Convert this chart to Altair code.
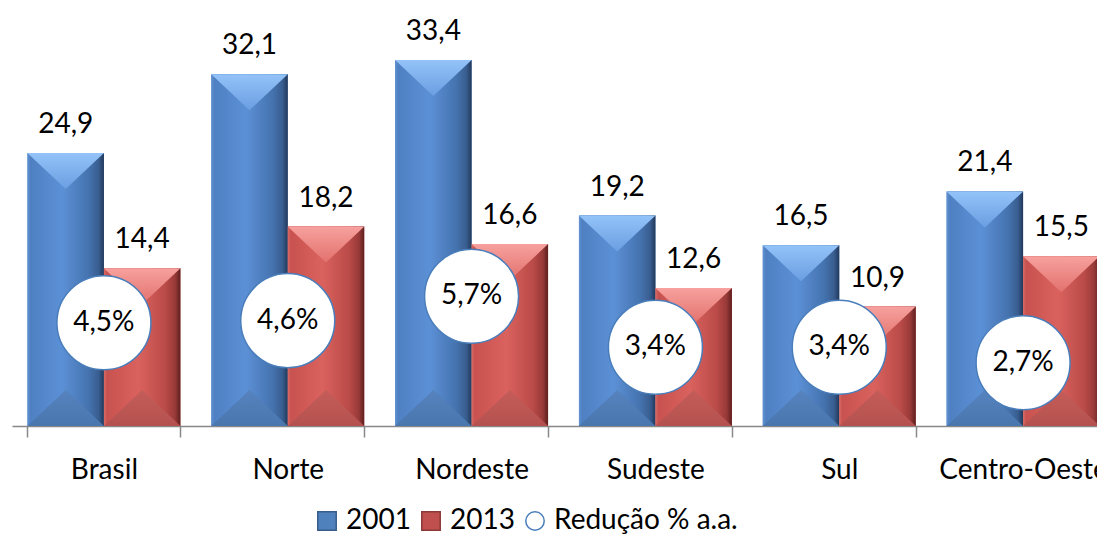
import altair as alt
import pandas as pd

# ---------------- data ----------------
categorias = ["Brasil", "Norte", "Nordeste", "Sudeste", "Sul", "Centro-Oeste"]
serie_2001 = [24.9, 32.1, 33.4, 19.2, 16.5, 21.4]
serie_2013 = [14.4, 18.2, 16.6, 12.6, 10.9, 15.5]
reducao = [4.5, 4.6, 5.7, 3.4, 3.4, 2.7]
series = ["2001", "2013"]
legenda = ["2001", "2013", "Redução % a.a."]

FONT = "Lato"


def fmt(v):
    return f"{v:.1f}".replace(".", ",")


bars = pd.DataFrame({
    "cat": categorias * 2,
    "serie": [series[0]] * len(categorias) + [series[1]] * len(categorias),
    "valor": serie_2001 + serie_2013,
})
bars["rotulo"] = bars["valor"].map(fmt)

circ = pd.DataFrame({"cat": categorias, "serie": legenda[2], "pct": reducao})
circ["rotulo"] = circ["pct"].map(lambda v: fmt(v) + "%")

# ---------------- styles ----------------
BLUE = "#4F81BD"
RED = "#C0504D"

def hgrad(stops):
    return alt.LinearGradient(gradient="linear", x1=0, x2=1, y1=0, y2=0,
                              stops=[alt.GradientStop(color=c, offset=o) for o, c in stops])

def vgrad(stops):
    return alt.LinearGradient(gradient="linear", x1=0, x2=0, y1=0, y2=1,
                              stops=[alt.GradientStop(color=c, offset=o) for o, c in stops])

body = {
    "2001": hgrad([(0, "#6393D2"), (0.04, "#4E80C2"), (0.45, "#5C90D6"), (0.8, "#4573AF"),
                   (0.93, "#395E90"), (1, "#22395C")]),
    "2013": hgrad([(0, "#D86B67"), (0.04, "#C8524F"), (0.45, "#DA625E"), (0.8, "#BA4B48"),
                   (0.93, "#983A38"), (1, "#5E1F1E")]),
}
top_tri = {
    "2001": vgrad([(0, "#93C3F8"), (1, "#6B9EE2")]),
    "2013": vgrad([(0, "#F7A19E"), (1, "#E2716D")]),
}
bot_tri = {
    "2001": vgrad([(0, "#5683BE"), (1, "#4A76AE")]),
    "2013": vgrad([(0, "#C45D5A"), (1, "#B4514E")]),
}

BAR_W = 76.6
TRI_SIZE = BAR_W * BAR_W

x_enc = alt.X(
    "cat:N", sort=categorias,
    scale=alt.Scale(domain=categorias, paddingInner=0.168, paddingOuter=0.084),
    axis=alt.Axis(title=None, labelFont=FONT, labelFontSize=28, labelColor="black", labelAngle=0,
                  domainColor="#888888", domainWidth=1.5, tickColor="#888888", tickWidth=1.5,
                  tickSize=11, tickBand="extent", labelPadding=19, labelOverlap=False,
                  labelBound=False, labelFlush=False),
)
xo_enc = alt.XOffset("serie:N", scale=alt.Scale(domain=series, paddingInner=0, paddingOuter=0))
y_scale = alt.Scale(domain=[0, 38.14], nice=False, zero=True)
y_enc = alt.Y("valor:Q", scale=y_scale, axis=None)

leg = alt.Legend(title=None, orient="none", legendX=301, legendY=499, direction="horizontal",
                 labelFont=FONT, labelFontSize=28, labelColor="black", symbolSize=340,
                 labelOffset=5, columnPadding=6, symbolStrokeWidth=1.5, padding=0,
                 labelLimit=0)

color_enc = alt.Color("serie:N", scale=alt.Scale(domain=legenda, range=[BLUE, RED, "white"]), legend=leg)
shape_enc = alt.Shape("serie:N", scale=alt.Scale(domain=legenda, range=["square", "square", "circle"]), legend=leg)
stroke_enc = alt.Stroke("serie:N", scale=alt.Scale(domain=legenda, range=["#385D8A", "#8C3836", "#4A7EBB"]), legend=leg)

base = alt.Chart(bars)

layers = [base.mark_bar().encode(x=x_enc, xOffset=xo_enc, y=y_enc, color=color_enc)]
for s in series:
    sb = base.transform_filter(alt.datum.serie == s)
    layers.append(sb.mark_bar(fill=body[s], strokeWidth=0).encode(x=x_enc, xOffset=xo_enc, y=y_enc))
    layers.append(sb.mark_point(shape="M-1,0L1,0L0,0.94Z", filled=True, fill=top_tri[s], size=TRI_SIZE,
                                strokeWidth=0, opacity=1).encode(x=x_enc, xOffset=xo_enc, y=y_enc))
    layers.append(sb.mark_point(shape="M-1,0L1,0L0,-0.94Z", filled=True, fill=bot_tri[s], size=TRI_SIZE,
                                strokeWidth=0, opacity=1).encode(
        x=x_enc, xOffset=xo_enc, y=alt.YDatum(0, scale=y_scale, axis=None)))
layers.append(base.mark_text(dy=-20, baseline="alphabetic", font=FONT, fontSize=28, color="black").encode(
    x=x_enc, xOffset=xo_enc, y=y_enc, text="rotulo:N"))

bar_group = alt.layer(*layers)

y2_scale = alt.Scale(domain=[-0.153, 18.70], nice=False, zero=False)
cbase = alt.Chart(circ)
circles = cbase.mark_point(filled=True, fill="white", size=8836, strokeWidth=1.5, opacity=1).encode(
    x=x_enc, y=alt.Y("pct:Q", scale=y2_scale, axis=None), shape=shape_enc, stroke=stroke_enc)
circ_text = cbase.mark_text(baseline="middle", font=FONT, fontSize=28, color="black").encode(
    x=x_enc, y=alt.Y("pct:Q", scale=y2_scale, axis=None), text="rotulo:N")
circ_group = alt.layer(circles, circ_text)

# SVG kept at 1089x527 so that page + margins fit the 1105x543 window (no rescaling);
# the plot area is wider and is clipped at the right edge, as in the reference.
chart = alt.layer(bar_group, circ_group).resolve_scale(y="independent").properties(
    width=1103, height=418,
    padding={"left": 4, "top": 0, "right": -18, "bottom": 109},
    autosize=alt.AutoSizeParams(type="none"),
    background="white",
).configure_view(stroke=None)

chart.save("out.html", embed_options={"renderer": "svg", "actions": False})
